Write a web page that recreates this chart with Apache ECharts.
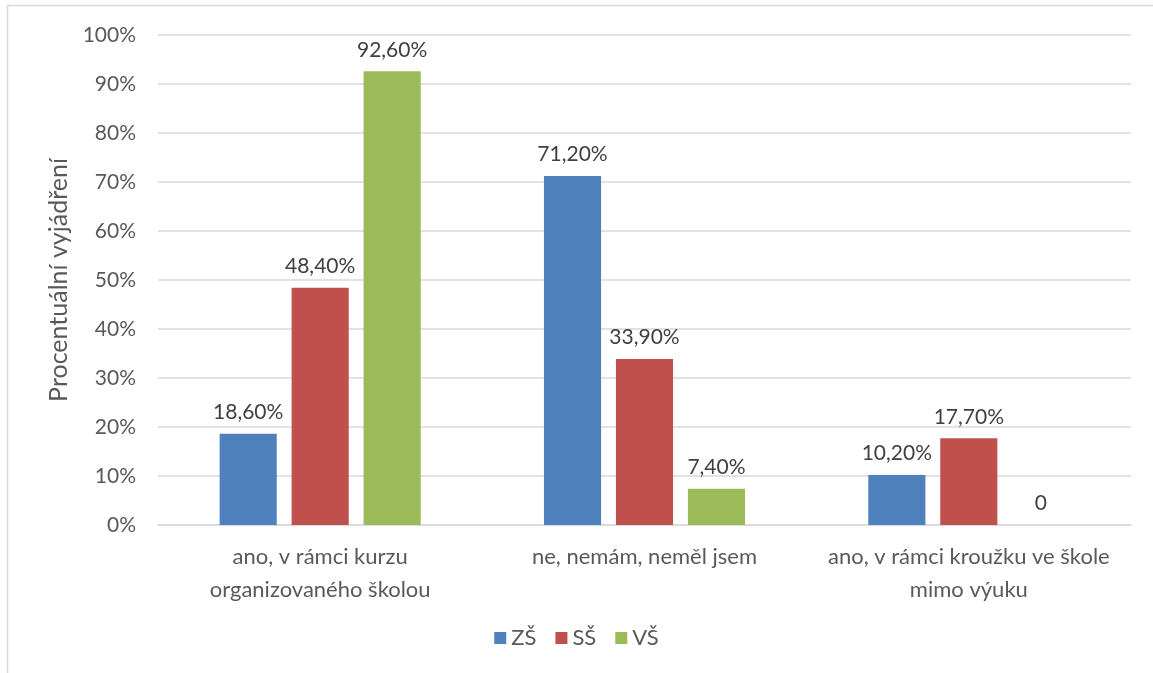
<!DOCTYPE html>
<html>
<head>
<meta charset="utf-8">
<script src="https://cdn.jsdelivr.net/npm/echarts@6/dist/echarts.min.js"></script>
<style>
  html, body { margin: 0; padding: 0; background: #fff; }
  #chart { width: 1153px; height: 673px; }
</style>
</head>
<body>
<div id="chart"></div>
<script>
// kategorie a hodnoty (v %)
var categories = ['ano, v rámci kurzu\norganizovaného školou', 'ne, nemám, neměl jsem', 'ano, v rámci kroužku ve škole\nmimo výuku'];
var zs = [18.6, 71.2, 10.2];
var ss = [48.4, 33.9, 17.7];
var vs = [92.6, 7.4, 0];
var seriesNames = ['ZŠ', 'SŠ', 'VŠ'];
var colors = ['#4f81bd', '#c0504d', '#9bbb59'];

var font = 'Lato, "Open Sans", sans-serif';

function fmt(p) {
  if (p.value === 0) return '0';
  return p.value.toFixed(2).replace('.', ',') + '%';
}

function makeSeries(name, data, i) {
  return {
    name: name,
    type: 'bar',
    data: data,
    barGap: '26%',
    barCategoryGap: '38%',
    itemStyle: { color: colors[i] },
    label: {
      show: true,
      position: 'top',
      distance: 11,
      formatter: fmt,
      color: '#404040',
      fontSize: 21,
      fontFamily: font
    }
  };
}

var chart = echarts.init(document.getElementById('chart'));
chart.setOption({
  animation: false,
  textStyle: { fontFamily: font },
  graphic: [{
    type: 'rect',
    shape: { x: 7.5, y: 5.5, width: 1170, height: 700 },
    style: { fill: 'none', stroke: '#d9d9d9', lineWidth: 1.5 },
    silent: true
  }],
  grid: { left: 158, right: 22, top: 35, bottom: 148 },
  legend: {
    data: seriesNames,
    bottom: 19,
    left: 'center',
    itemWidth: 12,
    itemHeight: 12,
    itemGap: 19,
    icon: 'rect',
    textStyle: { color: '#595959', fontSize: 22, fontFamily: font }
  },
  xAxis: {
    type: 'category',
    data: categories,
    axisLine: { lineStyle: { color: '#d9d9d9', width: 1.5 } },
    axisTick: { show: false },
    axisLabel: { interval: 0, color: '#595959', fontSize: 22, fontFamily: font, lineHeight: 33, margin: 15 }
  },
  yAxis: {
    type: 'value',
    min: 0,
    max: 100,
    interval: 10,
    name: 'Procentuální vyjádření',
    nameLocation: 'middle',
    nameRotate: 90,
    nameGap: 84,
    nameTextStyle: { color: '#595959', fontSize: 25, fontFamily: font },
    axisLabel: { formatter: '{value}%', color: '#595959', fontSize: 21, fontFamily: font, margin: 22 },
    splitLine: { lineStyle: { color: '#d9d9d9', width: 1.5 } }
  },
  series: [makeSeries('ZŠ', zs, 0), makeSeries('SŠ', ss, 1), makeSeries('VŠ', vs, 2)]
});
</script>
</body>
</html>
